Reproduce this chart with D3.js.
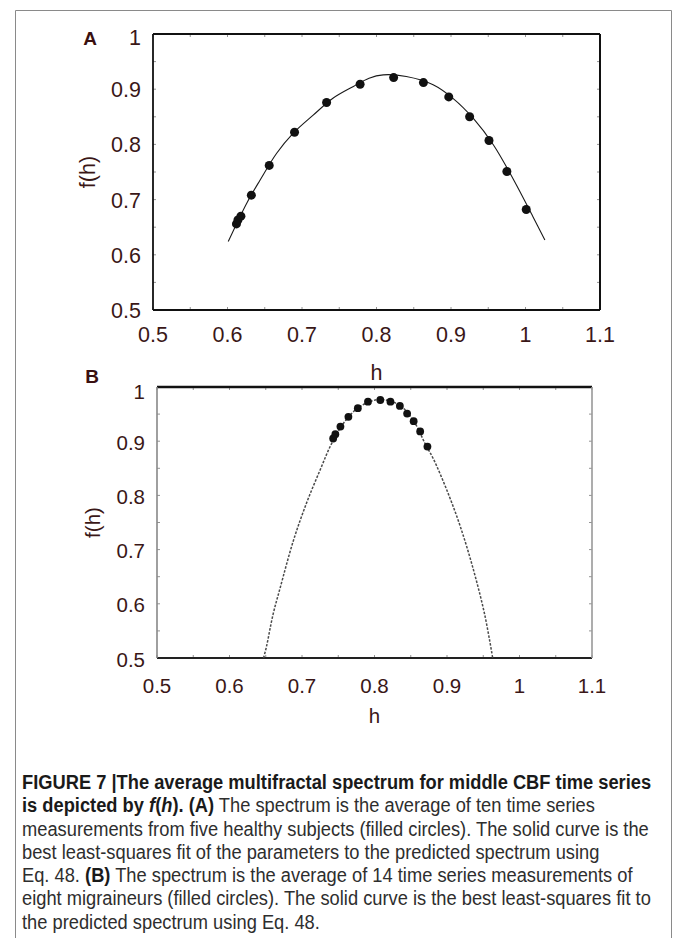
<!DOCTYPE html>
<html>
<head>
<meta charset="utf-8">
<script src="https://cdn.jsdelivr.net/npm/d3@7"></script>
<style>
  html, body { margin: 0; padding: 0; background: #fff; }
  svg { display: block; }
</style>
</head>
<body>
<svg id="chart" width="675" height="938"></svg>
<script>
// ---------- data ----------
const hTicks = [0.5, 0.6, 0.7, 0.8, 0.9, 1, 1.1];
const fTicks = [0.5, 0.6, 0.7, 0.8, 0.9, 1];

// Panel A: healthy subjects (filled circles)
const hA = [0.612, 0.614, 0.618, 0.632, 0.656, 0.690, 0.733, 0.778, 0.823, 0.863, 0.897, 0.925, 0.951, 0.975, 1.001];
const fA = [0.656, 0.663, 0.670, 0.708, 0.762, 0.822, 0.876, 0.909, 0.921, 0.912, 0.886, 0.850, 0.807, 0.751, 0.682];
// Panel A: least-squares fit curve
const fitAh = [0.601, 0.626, 0.644, 0.666, 0.688, 0.715, 0.742, 0.769, 0.790, 0.809, 0.840, 0.876, 0.903, 0.930, 0.957, 0.984, 1.010, 1.026];
const fitAf = [0.624, 0.694, 0.736, 0.784, 0.820, 0.853, 0.884, 0.905, 0.920, 0.926, 0.923, 0.908, 0.883, 0.847, 0.799, 0.736, 0.669, 0.627];

// Panel B: migraineurs (filled circles)
const hB = [0.743, 0.746, 0.753, 0.764, 0.777, 0.791, 0.808, 0.822, 0.835, 0.845, 0.854, 0.863, 0.873];
const fB = [0.905, 0.913, 0.927, 0.945, 0.961, 0.973, 0.976, 0.973, 0.965, 0.951, 0.937, 0.918, 0.890];
// Panel B: least-squares fit curve
const fitBh = [0.647, 0.651, 0.660, 0.670, 0.688, 0.706, 0.725, 0.741, 0.760, 0.780, 0.808, 0.835, 0.855, 0.870, 0.881, 0.900, 0.918, 0.936, 0.952, 0.963];
const fitBf = [0.500, 0.521, 0.580, 0.630, 0.716, 0.785, 0.847, 0.896, 0.938, 0.964, 0.977, 0.966, 0.935, 0.895, 0.868, 0.809, 0.744, 0.665, 0.580, 0.500];

// ---------- drawing ----------
const svg = d3.select("#chart");
const labelColor = "#3a1717";
const tickFont = "'Liberation Sans', Arial, sans-serif";

// outer frame
svg.append("path")
  .attr("d", "M15.5,938 V10.5 H671.5 V938")
  .attr("fill", "none").attr("stroke", "#8a8a8a").attr("stroke-width", 1);

function panel(cfg) {
  const x = d3.scaleLinear().domain([0.5, 1.1]).range([cfg.left, cfg.right]);
  const y = d3.scaleLinear().domain([0.5, 1]).range([cfg.bottom, cfg.top]);
  const g = svg.append("g");

  // minor inward ticks
  const minor = d3.range(0.5, 1.1001, 0.05);
  const minorY = d3.range(0.5, 1.0001, 0.05);
  g.selectAll(".mxb").data(minor).join("line")
    .attr("x1", d => x(d)).attr("x2", d => x(d))
    .attr("y1", cfg.bottom).attr("y2", cfg.bottom - 3)
    .attr("stroke", "#777").attr("stroke-width", 0.8);
  g.selectAll(".mxt").data(minor).join("line")
    .attr("x1", d => x(d)).attr("x2", d => x(d))
    .attr("y1", cfg.top).attr("y2", cfg.top + 3)
    .attr("stroke", "#777").attr("stroke-width", 0.8);
  g.selectAll(".myl").data(minorY).join("line")
    .attr("x1", cfg.left).attr("x2", cfg.left + 3)
    .attr("y1", d => y(d)).attr("y2", d => y(d))
    .attr("stroke", "#777").attr("stroke-width", 0.8);
  g.selectAll(".myr").data(minorY).join("line")
    .attr("x1", cfg.right).attr("x2", cfg.right - 3)
    .attr("y1", d => y(d)).attr("y2", d => y(d))
    .attr("stroke", "#777").attr("stroke-width", 0.8);

  // box
  g.append("line").attr("x1", cfg.left).attr("x2", cfg.right).attr("y1", cfg.top).attr("y2", cfg.top)
    .attr("stroke", cfg.topColor).attr("stroke-width", cfg.topW);
  g.append("line").attr("x1", cfg.left).attr("x2", cfg.right).attr("y1", cfg.bottom).attr("y2", cfg.bottom)
    .attr("stroke", cfg.bottomColor).attr("stroke-width", cfg.bottomW);
  g.append("line").attr("x1", cfg.left).attr("x2", cfg.left).attr("y1", cfg.top).attr("y2", cfg.bottom)
    .attr("stroke", cfg.leftColor).attr("stroke-width", cfg.leftW);
  g.append("line").attr("x1", cfg.right).attr("x2", cfg.right).attr("y1", cfg.top).attr("y2", cfg.bottom)
    .attr("stroke", cfg.rightColor).attr("stroke-width", cfg.rightW);

  // fit curve
  const fit = cfg.fitH.map((h, i) => [h, cfg.fitF[i]]);
  g.append("path").datum(fit)
    .attr("d", d3.line().x(d => x(d[0])).y(d => y(d[1])).curve(d3.curveCatmullRom.alpha(0.5)))
    .attr("fill", "none").attr("stroke", cfg.curveColor).attr("stroke-width", cfg.curveW)
    .attr("stroke-dasharray", cfg.dash);

  // points
  const pts = cfg.h.map((h, i) => [h, cfg.f[i]]);
  g.selectAll("circle").data(pts).join("circle")
    .attr("cx", d => x(d[0])).attr("cy", d => y(d[1])).attr("r", cfg.r)
    .attr("fill", "#111");

  // tick labels
  g.selectAll(".xl").data(hTicks).join("text")
    .attr("x", d => x(d)).attr("y", cfg.xLabelY)
    .attr("text-anchor", "middle").attr("dominant-baseline", "central")
    .attr("font-family", tickFont).attr("font-size", cfg.fs).attr("fill", labelColor)
    .text(d => d3.format("")(d));
  g.selectAll(".yl").data(fTicks).join("text")
    .attr("x", cfg.left - 12).attr("y", d => y(d) + (d === 1 ? 4 : 1))
    .attr("text-anchor", "end").attr("dominant-baseline", "central")
    .attr("font-family", tickFont).attr("font-size", cfg.fs).attr("fill", labelColor)
    .text(d => d3.format("")(d));

  // axis titles
  g.append("text").attr("x", (cfg.left + cfg.right) / 2).attr("y", cfg.hY)
    .attr("text-anchor", "middle").attr("dominant-baseline", "central")
    .attr("font-family", tickFont).attr("font-size", cfg.fs).attr("fill", labelColor).text("h");
  g.append("text")
    .attr("transform", `translate(${cfg.fX},${(cfg.top + cfg.bottom) / 2}) rotate(-90)`)
    .attr("text-anchor", "middle").attr("dominant-baseline", "central")
    .attr("font-family", tickFont).attr("font-size", cfg.fs).attr("fill", labelColor).text("f(h)");

  // panel letter
  g.append("text").attr("x", cfg.letterX).attr("y", cfg.letterY)
    .attr("text-anchor", "middle").attr("dominant-baseline", "central")
    .attr("font-family", tickFont).attr("font-weight", "bold").attr("font-size", 19)
    .attr("fill", "#3a1010").text(cfg.letter);
}

panel({
  left: 153, right: 600, top: 34, bottom: 310,
  h: hA, f: fA, fitH: fitAh, fitF: fitAf, r: 4.5,
  curveColor: "#1a1a1a", curveW: 1.1, dash: null,
  topColor: "#111", topW: 1.8, bottomColor: "#111", bottomW: 1.8,
  leftColor: "#111", leftW: 1.8, rightColor: "#111", rightW: 2,
  fs: 21.5, xLabelY: 335, hY: 373, fX: 88, letter: "A", letterX: 90, letterY: 38
});

panel({
  left: 157, right: 592, top: 387, bottom: 658,
  h: hB, f: fB, fitH: fitBh, fitF: fitBf, r: 3.9,
  curveColor: "#4a4a4a", curveW: 1.5, dash: "2.5,1.5",
  topColor: "#111", topW: 2.5, bottomColor: "#222", bottomW: 2,
  leftColor: "#888", leftW: 1.6, rightColor: "#999", rightW: 1.6,
  fs: 20.5, xLabelY: 685, hY: 715, fX: 92, letter: "B", letterX: 92, letterY: 376
});

// ---------- caption ----------
const capFont = "'Liberation Sans', Arial, sans-serif";
const capLines = [
  [{t: "FIGURE 7 |The average multifractal spectrum for middle CBF time series", b: true}],
  [{t: "is depicted by ", b: true}, {t: "f", b: true, i: true}, {t: "(", b: true}, {t: "h", b: true, i: true},
   {t: "). (A)", b: true}, {t: " The spectrum is the average of ten time series"}],
  [{t: "measurements from five healthy subjects (filled circles). The solid curve is the"}],
  [{t: "best least-squares fit of the parameters to the predicted spectrum using"}],
  [{t: "Eq. 48. "}, {t: "(B)", b: true}, {t: " The spectrum is the average of 14 time series measurements of"}],
  [{t: "eight migraineurs (filled circles). The solid curve is the best least-squares fit to"}],
  [{t: "the predicted spectrum using Eq. 48."}]
];
const cap = svg.append("text")
  .attr("transform", "translate(22,0) scale(0.915,1)")
  .attr("font-family", capFont).attr("font-size", 20).attr("fill", "#2e2e2e");
capLines.forEach((line, li) => {
  line.forEach((seg, si) => {
    const ts = cap.append("tspan").text(seg.t);
    if (si === 0) ts.attr("x", 0).attr("y", 789 + li * 23.3);
    if (seg.b) ts.attr("font-weight", "bold").attr("fill", "#1a1a1a");
    if (seg.i) ts.attr("font-style", "italic");
  });
});
</script>
</body>
</html>
